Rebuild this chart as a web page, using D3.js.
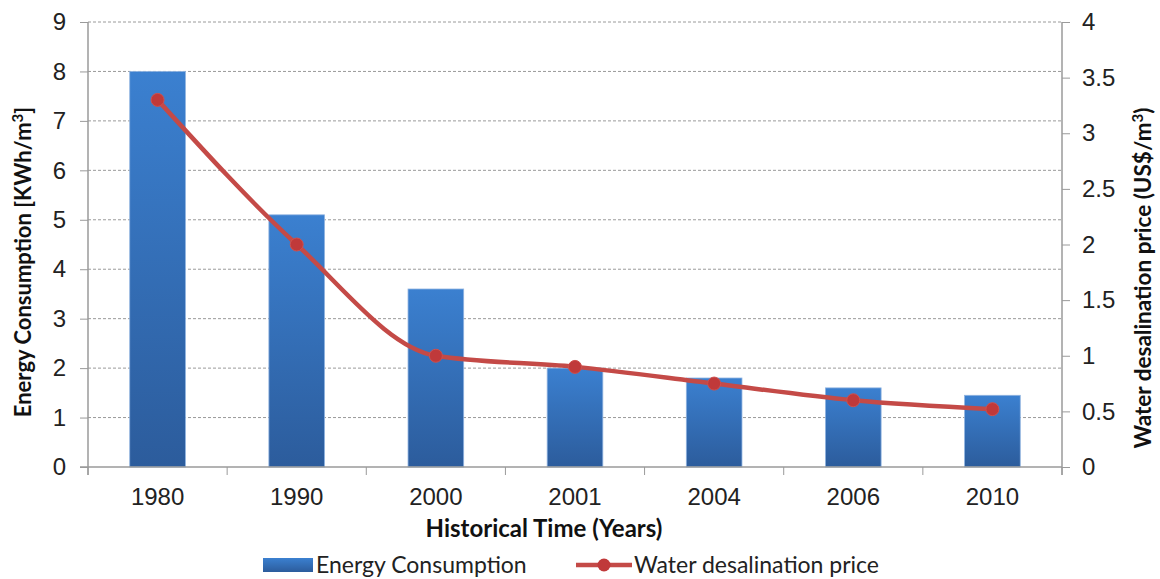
<!DOCTYPE html>
<meta charset="utf-8">
<script src="https://d3js.org/d3.v7.min.js"></script>
<style>
  body { margin: 0; background: #fff; }
  .title { font-family: Lato, "Open Sans", sans-serif; font-weight: bold; font-size: 22px; fill: #111; }
  .legend { font-family: Lato, "Open Sans", sans-serif; font-size: 23px; fill: #222; }
</style>
<div id="chart"></div>
<script>
// data
var years = ["1980", "1990", "2000", "2001", "2004", "2006", "2010"];
var energy = [8.0, 5.1, 3.6, 2.0, 1.8, 1.6, 1.45];
var price = [3.3, 2.0, 1.0, 0.9, 0.75, 0.6, 0.52];
var leftTicks = [0, 1, 2, 3, 4, 5, 6, 7, 8, 9];
var rightTicks = [0, 0.5, 1, 1.5, 2, 2.5, 3, 3.5, 4];

var W = 1160, H = 579;
var pLeft = 88, pRight = 1062, pTop = 22, pBottom = 467;

var svg = d3.select("#chart").append("svg")
  .attr("width", W).attr("height", H);

var grad = svg.append("defs").append("linearGradient")
  .attr("id", "barGrad").attr("x1", 0).attr("y1", 0).attr("x2", 0).attr("y2", 1);
grad.append("stop").attr("offset", "0%").attr("stop-color", "#3b80d0");
grad.append("stop").attr("offset", "100%").attr("stop-color", "#2c5c9c");

var x = d3.scaleBand().domain(years).range([pLeft, pRight]).paddingInner(0.6).paddingOuter(0.3);
var xTick = d3.scaleLinear().domain([0, years.length]).range([pLeft, pRight]);
var yL = d3.scaleLinear().domain([0, 9]).range([pBottom, pTop]);
var yR = d3.scaleLinear().domain([0, 4]).range([pBottom, pTop]);

// grid lines
svg.append("g").selectAll("line")
  .data(leftTicks.slice(1))
  .enter().append("line")
  .attr("x1", pLeft).attr("x2", pRight)
  .attr("y1", function(d) { return yL(d); })
  .attr("y2", function(d) { return yL(d); })
  .attr("stroke", "#9a9a9a").attr("stroke-width", 1)
  .attr("stroke-dasharray", "3,2");

// bars
svg.append("g").selectAll("rect")
  .data(energy)
  .enter().append("rect")
  .attr("x", function(d, i) { return x(years[i]); })
  .attr("y", function(d) { return yL(d); })
  .attr("width", x.bandwidth())
  .attr("height", function(d) { return pBottom - yL(d); })
  .attr("fill", "url(#barGrad)")
  .attr("stroke", "#8fb3e0").attr("stroke-width", 0.8);

// axes
var axisColor = "#9a9a9a";
var gL = svg.append("g").attr("transform", "translate(" + pLeft + ",0)")
  .call(d3.axisLeft(yL).tickValues(leftTicks).tickSize(8).tickPadding(14).tickFormat(d3.format("d")));
var gR = svg.append("g").attr("transform", "translate(" + pRight + ",0)")
  .call(d3.axisRight(yR).tickValues(rightTicks).tickSize(8).tickPadding(12).tickFormat(function(d) { return String(d); }));
var gB = svg.append("g").attr("transform", "translate(0," + pBottom + ")")
  .call(d3.axisBottom(x).tickSize(0).tickPadding(20));
gB.selectAll(".tick text").attr("dy", "0.75em");
svg.append("g").selectAll("line")
  .data(d3.range(years.length + 1))
  .enter().append("line")
  .attr("x1", function(d) { return xTick(d); }).attr("x2", function(d) { return xTick(d); })
  .attr("y1", pBottom).attr("y2", pBottom + 8)
  .attr("stroke", axisColor);
[gL, gR, gB].forEach(function(g) {
  g.selectAll(".tick text")
    .style("font-family", "Arial, 'Liberation Sans', sans-serif")
    .style("font-size", "24px")
    .style("fill", "#222");
  g.select(".domain").attr("stroke", axisColor).attr("stroke-width", 1.5);
  g.selectAll(".tick line").attr("stroke", axisColor);
});
gL.select(".domain").attr("d", "M0," + pTop + "V" + (pBottom + 8));
gR.select(".domain").attr("d", "M0," + pTop + "V" + (pBottom + 8));
gB.select(".domain").attr("d", "M" + (pLeft - 8) + ",0H" + pRight);

// price line
var line = d3.line()
  .x(function(d, i) { return x(years[i]) + x.bandwidth() / 2; })
  .y(function(d) { return yR(d); })
  .curve(d3.curveMonotoneX);
svg.append("path").datum(price)
  .attr("d", line)
  .attr("fill", "none").attr("stroke", "#c44a47").attr("stroke-width", 4.5);
svg.append("g").selectAll("circle")
  .data(price)
  .enter().append("circle")
  .attr("cx", function(d, i) { return x(years[i]) + x.bandwidth() / 2; })
  .attr("cy", function(d) { return yR(d); })
  .attr("r", 6.5)
  .attr("fill", "#c0393a").attr("stroke", "#d0504d").attr("stroke-width", 1);

// titles
svg.append("text").attr("class", "title")
  .attr("x", 544).attr("y", 537).attr("text-anchor", "middle")
  .style("font-size", "24px")
  .text("Historical Time (Years)");
svg.append("text").attr("class", "title")
  .attr("transform", "translate(31,262) rotate(-90)").attr("text-anchor", "middle")
  .html("Energy Consumption [KWh/m<tspan dy='-8' font-size='15'>3</tspan><tspan dy='8'>]</tspan>");
svg.append("text").attr("class", "title")
  .attr("transform", "translate(1151,278) rotate(-90)").attr("text-anchor", "middle")
  .style("font-size", "22.5px")
  .html("Water desalination price (US$/m<tspan dy='-8' font-size='15'>3</tspan><tspan dy='8'>)</tspan>");

// legend
var lg = svg.append("g");
lg.append("rect").attr("x", 263).attr("y", 558).attr("width", 50).attr("height", 14)
  .attr("fill", "url(#barGrad)");
lg.append("text").attr("class", "legend").attr("x", 316).attr("y", 573).text("Energy Consumption");
lg.append("line").attr("x1", 576).attr("x2", 632).attr("y1", 565).attr("y2", 565)
  .attr("stroke", "#c44a47").attr("stroke-width", 4.5);
lg.append("circle").attr("cx", 604).attr("cy", 565).attr("r", 6.5).attr("fill", "#c0393a");
lg.append("text").attr("class", "legend").attr("x", 634).attr("y", 573).text("Water desalination price");
</script>
